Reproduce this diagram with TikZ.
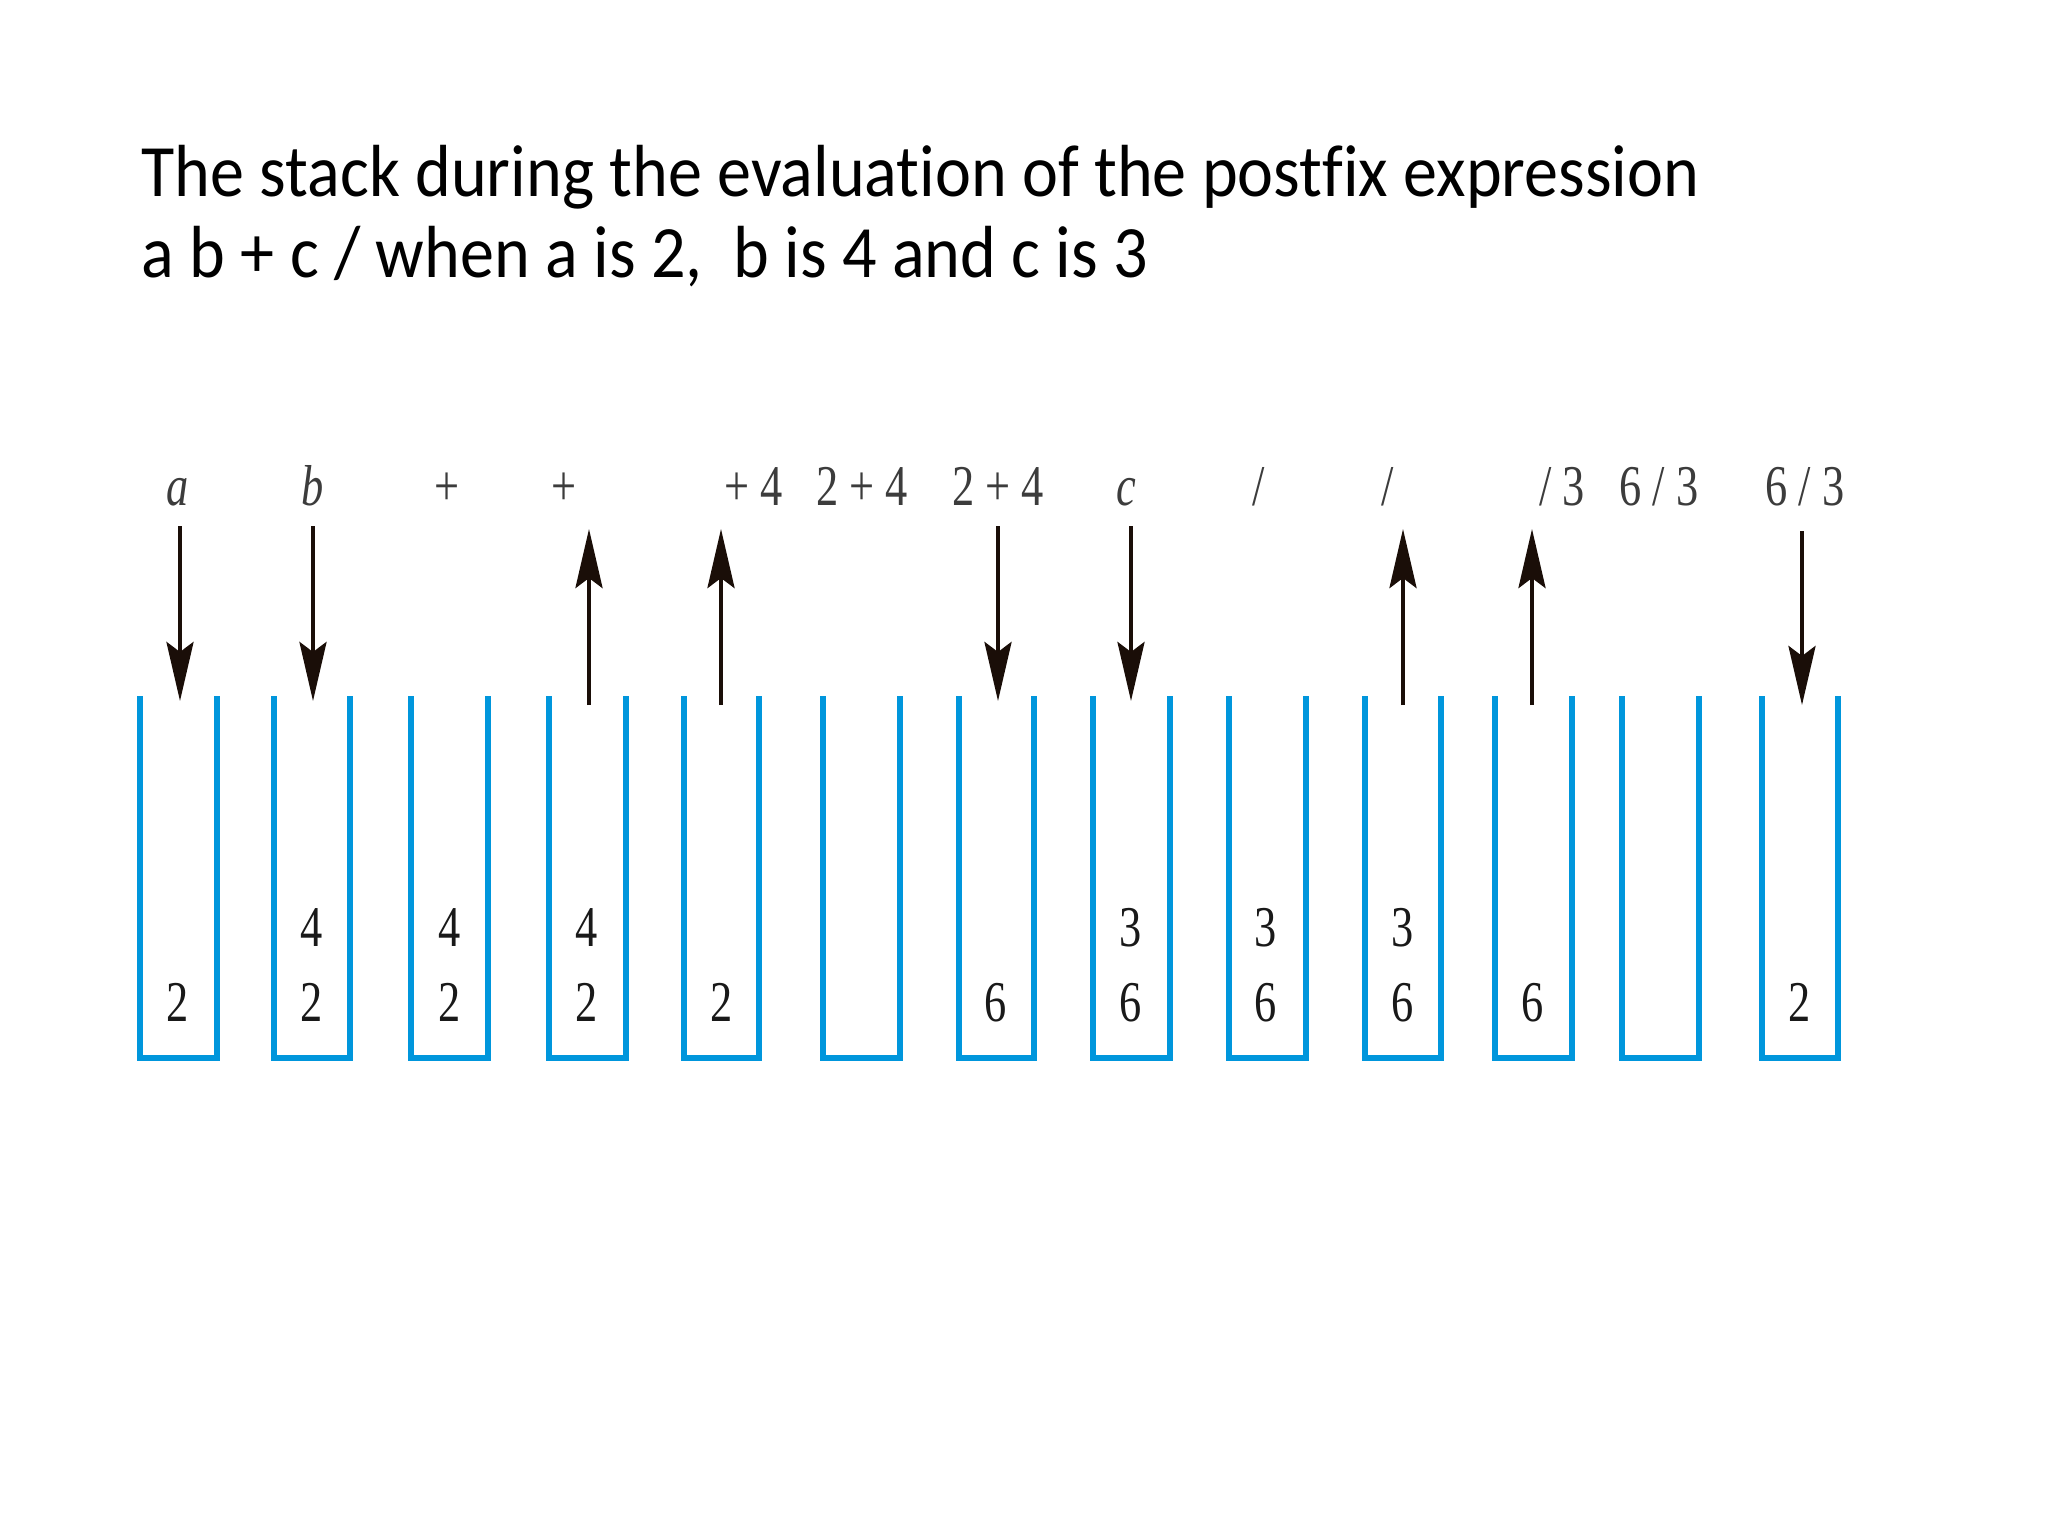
\documentclass[tikz,border=0pt]{standalone}
\usepackage{fontspec}
\usepackage{graphicx}
\setmainfont{Liberation Serif}
\newfontfamily\titlefont[Ligatures=NoCommon,FakeStretch=0.922]{Carlito}
\usetikzlibrary{arrows.meta}
\definecolor{stackblue}{RGB}{0,150,220}
\definecolor{arrowdark}{RGB}{26,14,8}
\definecolor{labelgrey}{RGB}{60,60,60}
\definecolor{valdark}{RGB}{25,25,25}
\begin{document}
\begin{tikzpicture}[x=0.01cm,y=-0.01cm,
  stackwall/.style={draw=stackblue,line width=1.85pt,line join=miter,line cap=butt},
  titletext/.style={anchor=base west,inner sep=0,font=\titlefont\fontsize{21}{25}\selectfont},
  lbl/.style={anchor=base,inner sep=0,text=labelgrey,font=\fontsize{16.4}{20}\selectfont},
  val/.style={anchor=base,inner sep=0,text=valdark,font=\fontsize{16.4}{20}\selectfont},
  arr/.style={draw=arrowdark,line width=1.2pt,-{Stealth[length=5.9mm,width=2.7mm,inset=1mm]}}]
\path[use as bounding box,fill=white] (0,0) rectangle (2048,1536);

% title
\node[titletext] (title1) at (141,196) {The stack during the evaluation of the postfix expression};
\node[titletext] (title2) at (141,277) {a b + c / when a is 2,\ \ b is 4 and c is 3};

% stacks: left x, right x
\foreach \n/\l/\r in {1/140/217,2/274/350,3/411/488,4/549/626,5/684/759,6/823/900,7/959/1034,8/1093/1170,9/1229/1306,10/1365/1441,11/1495/1572,12/1622/1699,13/1762/1838}{
  \draw[stackwall] (\l,696) -- (\l,1058) -- (\r,1058) -- (\r,696);
}

% labels above
\node[lbl] (l1) at (178,505) {\scalebox{0.77}[1]{\itshape a}};
\node[lbl] (l2) at (313,505) {\scalebox{0.77}[1]{\itshape b}};
\node[lbl] (l3) at (447,505) {\scalebox{0.77}[1]{+}};
\node[lbl] (l4) at (564,505) {\scalebox{0.77}[1]{+}};
\node[lbl] (l5) at (754,505) {\scalebox{0.77}[1]{+ 4}};
\node[lbl] (l6) at (862,505) {\scalebox{0.77}[1]{2 + 4}};
\node[lbl] (l7) at (998,505) {\scalebox{0.77}[1]{2 + 4}};
\node[lbl] (l8) at (1126,505) {\scalebox{0.77}[1]{\itshape c}};
\node[lbl] (l9) at (1259,505) {\scalebox{0.77}[1]{/}};
\node[lbl] (l10) at (1388,505) {\scalebox{0.77}[1]{/}};
\node[lbl] (l11) at (1562,505) {\scalebox{0.77}[1]{/ 3}};
\node[lbl] (l12) at (1659,505) {\scalebox{0.77}[1]{6 / 3}};
\node[lbl] (l13) at (1805,505) {\scalebox{0.77}[1]{6 / 3}};

% stack contents
\node[val] (v1a) at (178,1021) {\scalebox{0.77}[1]{2}};
\node[val] (v2a) at (312,1021) {\scalebox{0.77}[1]{2}};
\node[val] (v2b) at (312,946) {\scalebox{0.77}[1]{4}};
\node[val] (v3a) at (450,1021) {\scalebox{0.77}[1]{2}};
\node[val] (v3b) at (450,946) {\scalebox{0.77}[1]{4}};
\node[val] (v4a) at (587,1021) {\scalebox{0.77}[1]{2}};
\node[val] (v4b) at (587,946) {\scalebox{0.77}[1]{4}};
\node[val] (v5a) at (722,1021) {\scalebox{0.77}[1]{2}};
\node[val] (v7a) at (996,1021) {\scalebox{0.77}[1]{6}};
\node[val] (v8a) at (1131,1021) {\scalebox{0.77}[1]{6}};
\node[val] (v8b) at (1131,946) {\scalebox{0.77}[1]{3}};
\node[val] (v9a) at (1266,1021) {\scalebox{0.77}[1]{6}};
\node[val] (v9b) at (1266,946) {\scalebox{0.77}[1]{3}};
\node[val] (v10a) at (1403,1021) {\scalebox{0.77}[1]{6}};
\node[val] (v10b) at (1403,946) {\scalebox{0.77}[1]{3}};
\node[val] (v11a) at (1533,1021) {\scalebox{0.77}[1]{6}};
\node[val] (v13a) at (1800,1021) {\scalebox{0.77}[1]{2}};

% arrow end points
\coordinate (d1s) at (180,526);  \coordinate (d1e) at (180,701);
\coordinate (d2s) at (313,526);  \coordinate (d2e) at (313,701);
\coordinate (d7s) at (998,526);  \coordinate (d7e) at (998,701);
\coordinate (d8s) at (1131,526); \coordinate (d8e) at (1131,701);
\coordinate (d13s) at (1802,531); \coordinate (d13e) at (1802,705);
\coordinate (u4s) at (589,705);  \coordinate (u4e) at (589,529);
\coordinate (u5s) at (721,705);  \coordinate (u5e) at (721,529);
\coordinate (u10s) at (1403,705); \coordinate (u10e) at (1403,529);
\coordinate (u11s) at (1532,705); \coordinate (u11e) at (1532,529);

\draw[arr] (d1s) -- (d1e);
\draw[arr] (d2s) -- (d2e);
\draw[arr] (d7s) -- (d7e);
\draw[arr] (d8s) -- (d8e);
\draw[arr] (d13s) -- (d13e);
\draw[arr] (u4s) -- (u4e);
\draw[arr] (u5s) -- (u5e);
\draw[arr] (u10s) -- (u10e);
\draw[arr] (u11s) -- (u11e);
\end{tikzpicture}
\end{document}
